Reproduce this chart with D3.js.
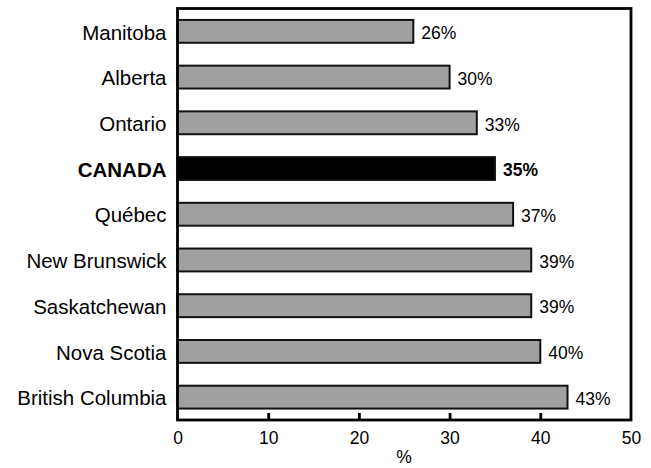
<!DOCTYPE html>
<html>
<head>
<meta charset="utf-8">
<script src="https://cdn.jsdelivr.net/npm/d3@7"></script>
<style>
  body { margin: 0; background: #fff; }
  text { font-family: "Liberation Sans", Arial, sans-serif; fill: #000; }
</style>
</head>
<body>
<svg id="chart" width="651" height="468"></svg>
<script>
// Share by province, with the national figure highlighted
const regions = ["Manitoba", "Alberta", "Ontario", "CANADA", "Québec",
                 "New Brunswick", "Saskatchewan", "Nova Scotia", "British Columbia"];
const percents = [26, 30, 33, 35, 37, 39, 39, 40, 43];
const highlight = "CANADA";
const xTicks = [0, 10, 20, 30, 40, 50];

const data = regions.map((r, i) => ({ region: r, value: percents[i] }));

const svg = d3.select("#chart");
const plotLeft = 177.5, plotRight = 631, plotTop = 8.5, plotBottom = 420;

const x = d3.scaleLinear().domain([0, 50]).range([plotLeft, plotRight]);
const y = d3.scaleBand().domain(regions).range([plotTop, plotBottom]).paddingInner(0.5).paddingOuter(0.25);

// bars
svg.append("g").selectAll("rect")
  .data(data)
  .join("rect")
  .attr("x", x(0))
  .attr("y", d => y(d.region))
  .attr("width", d => x(d.value) - x(0))
  .attr("height", y.bandwidth())
  .attr("fill", d => d.region === highlight ? "#000" : "#a0a0a0")
  .attr("stroke", "#111")
  .attr("stroke-width", 2);

// value labels
svg.append("g").selectAll("text")
  .data(data)
  .join("text")
  .attr("x", d => x(d.value) + 8)
  .attr("y", d => y(d.region) + y.bandwidth() / 2)
  .attr("dy", "0.44em")
  .attr("font-size", 17.5)
  .attr("font-weight", d => d.region === highlight ? "bold" : "normal")
  .text(d => d.value + "%");

// category labels
svg.append("g").selectAll("text")
  .data(data)
  .join("text")
  .attr("x", plotLeft - 11)
  .attr("y", d => y(d.region) + y.bandwidth() / 2)
  .attr("dy", "0.4em")
  .attr("text-anchor", "end")
  .attr("font-size", 20.5)
  .attr("font-weight", d => d.region === highlight ? "bold" : "normal")
  .text(d => d.region);

// frame
svg.append("rect")
  .attr("x", plotLeft).attr("y", plotTop)
  .attr("width", plotRight - plotLeft).attr("height", plotBottom - plotTop)
  .attr("fill", "none").attr("stroke", "#000").attr("stroke-width", 2.8);

// bottom axis with inward ticks
const axis = d3.axisBottom(x).tickValues(xTicks).tickSizeInner(-7).tickSizeOuter(0).tickPadding(12);
const gx = svg.append("g").attr("transform", `translate(0,${plotBottom})`).call(axis);
gx.select(".domain").remove();
gx.selectAll(".tick line").attr("stroke", "#000").attr("stroke-width", 2.8)
  .filter(d => d === 0 || d === 50).remove();
gx.selectAll(".tick text").attr("font-size", 17.5).attr("fill", "#000")
  .attr("font-family", "'Liberation Sans', Arial, sans-serif");

svg.append("text")
  .attr("x", 404)
  .attr("y", 463)
  .attr("text-anchor", "middle")
  .attr("font-size", 17.5)
  .text("%");
</script>
</body>
</html>
